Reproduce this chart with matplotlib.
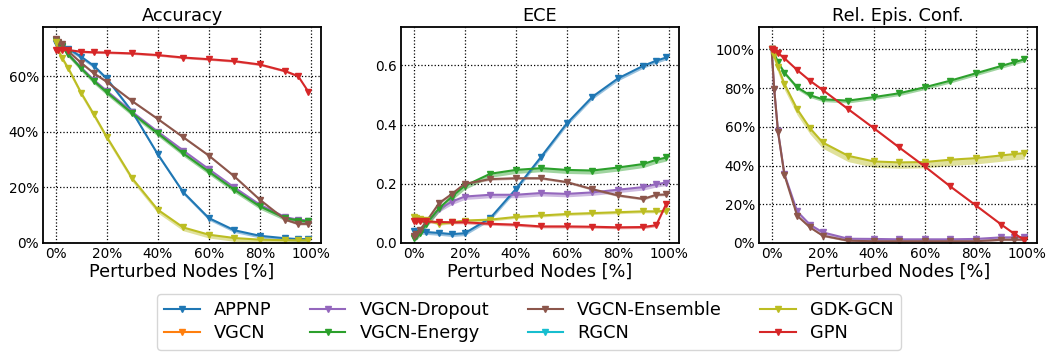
import numpy as np
import matplotlib
matplotlib.use("Agg")
import matplotlib.pyplot as plt
from matplotlib.ticker import PercentFormatter, MultipleLocator

nan = np.nan
x = [0, 0.01, 0.025, 0.05, 0.1, 0.15, 0.2, 0.3, 0.4, 0.5, 0.6, 0.7, 0.8, 0.9, 0.95, 0.99]
models = ["APPNP", "VGCN", "VGCN-Dropout", "VGCN-Energy", "VGCN-Ensemble", "RGCN", "GDK-GCN", "GPN"]
colors = ["tab:blue", "tab:orange", "tab:purple", "tab:green", "tab:brown", "tab:cyan", "tab:olive", "tab:red"]
empty = [nan] * 16

acc_appnp = [0.72, 0.715, 0.705, 0.70, 0.671, 0.638, 0.593, 0.473, 0.32, 0.183, 0.09, 0.046, 0.026, 0.017, 0.014, 0.014]
acc_dropout = [0.73, 0.72, 0.71, 0.68, 0.632, 0.587, 0.548, 0.472, 0.401, 0.333, 0.266, 0.20, 0.138, 0.093, 0.084, 0.081]
acc_energy = [0.73, 0.72, 0.71, 0.679, 0.629, 0.583, 0.543, 0.467, 0.395, 0.323, 0.257, 0.192, 0.132, 0.09, 0.081, 0.078]
acc_ensemble = [0.733, 0.725, 0.715, 0.69, 0.649, 0.611, 0.581, 0.511, 0.447, 0.381, 0.315, 0.24, 0.156, 0.084, 0.069, 0.069]
acc_gdk = [0.725, 0.695, 0.668, 0.629, 0.541, 0.463, 0.383, 0.233, 0.12, 0.056, 0.03, 0.018, 0.012, 0.01, 0.01, 0.01]
acc_gpn = [0.695, 0.695, 0.695, 0.695, 0.689, 0.687, 0.686, 0.683, 0.677, 0.668, 0.662, 0.655, 0.643, 0.619, 0.601, 0.545]

ece_appnp = [0.042, 0.04, 0.038, 0.037, 0.034, 0.03, 0.033, 0.084, 0.182, 0.292, 0.404, 0.494, 0.556, 0.599, 0.616, 0.627]
ece_dropout = [0.019, 0.025, 0.04, 0.067, 0.115, 0.14, 0.157, 0.163, 0.163, 0.169, 0.166, 0.171, 0.18, 0.189, 0.199, 0.204]
ece_energy = [0.017, 0.022, 0.034, 0.065, 0.118, 0.157, 0.193, 0.234, 0.247, 0.253, 0.247, 0.245, 0.255, 0.267, 0.281, 0.289]
ece_ensemble = [0.025, 0.03, 0.045, 0.073, 0.135, 0.166, 0.20, 0.216, 0.219, 0.219, 0.206, 0.182, 0.161, 0.149, 0.163, 0.164]
ece_gdk = [0.088, 0.084, 0.081, 0.079, 0.065, 0.07, 0.076, 0.079, 0.088, 0.093, 0.098, 0.101, 0.104, 0.107, 0.107, 0.109]
ece_gpn = [0.073, 0.073, 0.073, 0.073, 0.071, 0.07, 0.07, 0.065, 0.062, 0.056, 0.056, 0.055, 0.053, 0.054, 0.06, 0.133]

rel_dropout = [1.0, 0.794, 0.576, 0.356, 0.163, 0.095, 0.055, 0.022, 0.021, 0.019, 0.019, 0.019, 0.021, 0.029, 0.029, 0.031]
rel_energy = [1.0, 0.98, 0.933, 0.88, 0.804, 0.763, 0.742, 0.735, 0.753, 0.773, 0.804, 0.838, 0.876, 0.914, 0.933, 0.948]
rel_ensemble = [1.0, 0.795, 0.574, 0.352, 0.141, 0.081, 0.038, 0.012, 0.009, 0.009, 0.009, 0.009, 0.009, 0.017, 0.017, 0.017]
rel_gdk = [1.0, 0.97, 0.91, 0.821, 0.691, 0.593, 0.519, 0.45, 0.421, 0.416, 0.418, 0.43, 0.438, 0.452, 0.459, 0.464]
rel_gpn = [1.0, 0.997, 0.98, 0.954, 0.893, 0.838, 0.79, 0.691, 0.593, 0.493, 0.395, 0.292, 0.194, 0.095, 0.048, 0.017]

panels = [
    ("Accuracy", [acc_appnp, empty, acc_dropout, acc_energy, acc_ensemble, empty, acc_gdk, acc_gpn],
     [0.008, 0, 0.008, 0.01, 0.004, 0, 0.012, 0.004]),
    ("ECE", [ece_appnp, empty, ece_dropout, ece_energy, ece_ensemble, empty, ece_gdk, ece_gpn],
     [0.008, 0, 0.01, 0.012, 0.004, 0, 0.005, 0.005]),
    ("Rel. Epis. Conf.", [empty, empty, rel_dropout, rel_energy, rel_ensemble, empty, rel_gdk, rel_gpn],
     [0, 0, 0.01, 0.012, 0.005, 0, 0.03, 0.005]),
]
ylims = [(0, 0.778), (0, 0.73), (0, 1.115)]

W, H = 1053, 352
fig = plt.figure(figsize=(W / 100, H / 100), dpi=100)
lefts = [43, 401, 759]
axes = []
for i, (title, series, bands) in enumerate(panels):
    ax = fig.add_axes([lefts[i] / W, (H - 243) / H, 278 / W, 216 / H])
    axes.append(ax)
    for name, col, y, b in zip(models, colors, series, bands):
        y = np.array(y, dtype=float)
        if b > 0:
            ax.fill_between(x, y - b, y, color=col, alpha=0.45, linewidth=0)
        ax.plot(x, y, color=col, marker="v", markersize=5, linewidth=1.5, label=name)
    ax.set_title(title, fontsize=12.8, pad=4)
    ax.set_xlabel("Perturbed Nodes [%]", fontsize=12.8, labelpad=1)
    ax.set_xlim(-0.0495, 1.0395)
    ax.set_ylim(*ylims[i])
    ax.xaxis.set_major_locator(MultipleLocator(0.2))
    ax.xaxis.set_major_formatter(PercentFormatter(1.0, decimals=0))
    ax.yaxis.set_major_locator(MultipleLocator(0.2))
    if i != 1:
        ax.yaxis.set_major_formatter(PercentFormatter(1.0, decimals=0))
    ax.tick_params(length=0, labelsize=9.8, pad=3)
    ax.grid(True, color="black", linestyle=":", linewidth=0.9)
    for s in ax.spines.values():
        s.set_color("black")
        s.set_linewidth(1.3)

handles, labels = axes[0].get_legend_handles_labels()
fig.legend(handles, labels, loc="upper center", ncol=4, fontsize=12.8,
           bbox_to_anchor=(529 / W, (H - 294) / H), handlelength=2.0,
           columnspacing=2.15, borderaxespad=0, handletextpad=0.8,
           labelspacing=0.3)

fig.savefig("out.png", dpi=100)
